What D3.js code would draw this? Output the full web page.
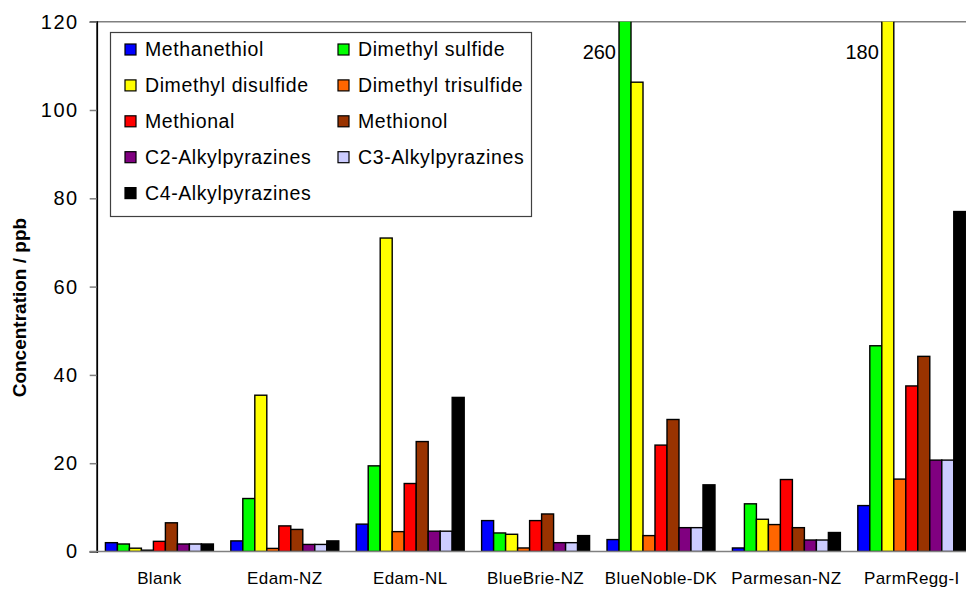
<!DOCTYPE html>
<html>
<head>
<meta charset="utf-8">
<script src="https://cdn.jsdelivr.net/npm/d3@7"></script>
<style>
  html, body { margin: 0; padding: 0; background: #fff; }
  svg { display: block; font-family: "Liberation Sans", Arial, sans-serif; }
</style>
</head>
<body>
<svg id="chart" width="966" height="593"></svg>
<script>
// ---- data ----
const categories = ["Blank", "Edam-NZ", "Edam-NL", "BlueBrie-NZ", "BlueNoble-DK", "Parmesan-NZ", "ParmRegg-I"];
const seriesNames = ["Methanethiol", "Dimethyl sulfide", "Dimethyl disulfide", "Dimethyl trisulfide",
  "Methional", "Methionol", "C2-Alkylpyrazines", "C3-Alkylpyrazines", "C4-Alkylpyrazines"];
const seriesColors = ["#0000FF", "#00FF00", "#FFFF00", "#FF6600", "#FF0000", "#993300", "#800080", "#CCCCFF", "#000000"];
const methanethiol      = [2.0, 2.4, 6.2, 7.0, 2.7, 0.8, 10.4];
const dimethylSulfide   = [1.7, 12.0, 19.4, 4.2, 260, 10.8, 46.6];
const dimethylDisulfide = [0.75, 35.4, 71.0, 3.9, 106.3, 7.3, 180];
const dimethylTrisulf   = [0.3, 0.7, 4.5, 0.8, 3.6, 6.1, 16.4];
const methional         = [2.3, 5.8, 15.4, 7.0, 24.1, 16.3, 37.5];
const methionol         = [6.5, 5.0, 24.9, 8.5, 29.9, 5.4, 44.2];
const c2Pyrazines       = [1.7, 1.6, 4.6, 2.0, 5.4, 2.6, 20.7];
const c3Pyrazines       = [1.7, 1.6, 4.6, 2.0, 5.4, 2.6, 20.7];
const c4Pyrazines       = [1.7, 2.4, 34.9, 3.6, 15.1, 4.3, 77.0];
const yTicks = [0, 20, 40, 60, 80, 100, 120];
const yTitle = "Concentration / ppb";

const seriesValues = [methanethiol, dimethylSulfide, dimethylDisulfide, dimethylTrisulf,
  methional, methionol, c2Pyrazines, c3Pyrazines, c4Pyrazines];

// ---- layout ----
const svg = d3.select("#chart");
const pLeft = 96.7, pTop = 21.7, pBottom = 551.5;
const step = 125.4;
const pRight = pLeft + step * categories.length;

const x0 = d3.scaleBand().domain(categories).range([pLeft, pRight])
  .paddingInner(0.139).paddingOuter(0.0695);
const x1 = d3.scaleBand().domain(d3.range(seriesNames.length)).range([0, x0.bandwidth()]);
const y = d3.scaleLinear().domain([0, 120]).range([pBottom, pTop]);

svg.append("defs").append("clipPath").attr("id", "plotclip")
  .append("rect").attr("x", pLeft).attr("y", pTop).attr("width", pRight - pLeft).attr("height", pBottom - pTop);

// top border of plot area
svg.append("line").attr("x1", pLeft).attr("x2", 966).attr("y1", pTop).attr("y2", pTop)
  .attr("stroke", "#808080").attr("stroke-width", 1.5);

// bars
const gBars = svg.append("g").attr("clip-path", "url(#plotclip)");
categories.forEach((cat, ci) => {
  seriesValues.forEach((vals, si) => {
    const v = vals[ci];
    gBars.append("rect")
      .attr("x", x0(cat) + x1(si))
      .attr("y", y(v))
      .attr("width", x1.bandwidth())
      .attr("height", pBottom - y(v))
      .attr("fill", seriesColors[si])
      .attr("stroke", "#000")
      .attr("stroke-width", 1.4);
  });
});

// off-scale value labels
categories.forEach((cat, ci) => {
  seriesValues.forEach((vals, si) => {
    const v = vals[ci];
    if (v > 120) {
      svg.append("text")
        .attr("x", x0(cat) + x1(si) - 3)
        .attr("y", 59)
        .attr("text-anchor", "end")
        .attr("font-size", 20)
        .attr("fill", "#000")
        .text(v);
    }
  });
});

// y axis
const yAxis = d3.axisLeft(y).tickValues(yTicks).tickSize(7).tickPadding(11);
const gy = svg.append("g").attr("transform", `translate(${pLeft},0)`).call(yAxis);
gy.select(".domain").attr("stroke", "#000").attr("stroke-width", 1.8);
gy.selectAll(".tick line").attr("stroke", "#808080").attr("stroke-width", 1.5);
gy.selectAll(".tick text").attr("font-size", 20).attr("fill", "#000")
  .attr("letter-spacing", 1.5)
  .attr("font-family", "Liberation Sans, Arial, sans-serif");

// x axis baseline + labels
const xAxis = d3.axisBottom(x0).tickSize(0).tickPadding(20);
const gx = svg.append("g").attr("transform", `translate(0,${pBottom})`).call(xAxis);
gx.select(".domain").attr("stroke", "#808080").attr("stroke-width", 1.5)
  .attr("d", `M${pLeft - 7},0H966`);
gx.selectAll(".tick text").attr("font-size", 17).attr("fill", "#000")
  .attr("letter-spacing", 0.4)
  .attr("font-family", "Liberation Sans, Arial, sans-serif");

// y title
svg.append("text")
  .attr("transform", `translate(26,${(pTop + pBottom) / 2 + 21}) rotate(-90)`)
  .attr("text-anchor", "middle")
  .attr("font-size", 19).attr("font-weight", "bold")
  .text(yTitle);

// legend
const lg = svg.append("g");
lg.append("rect").attr("x", 110.5).attr("y", 32.5).attr("width", 421).attr("height", 184)
  .attr("fill", "#fff").attr("stroke", "#404040").attr("stroke-width", 1.2);
seriesNames.forEach((name, i) => {
  const col = i % 2, row = Math.floor(i / 2);
  const sx = col === 0 ? 125 : 338;
  const cy = 49.5 + row * 35.9;
  lg.append("rect").attr("x", sx).attr("y", cy - 5.5).attr("width", 11).attr("height", 11)
    .attr("fill", seriesColors[i]).attr("stroke", "#000").attr("stroke-width", 1.2);
  lg.append("text").attr("x", sx + 20).attr("y", cy + 6.5)
    .attr("font-size", 19.5).attr("letter-spacing", 0.6).attr("fill", "#000").text(name);
});
</script>
</body>
</html>
